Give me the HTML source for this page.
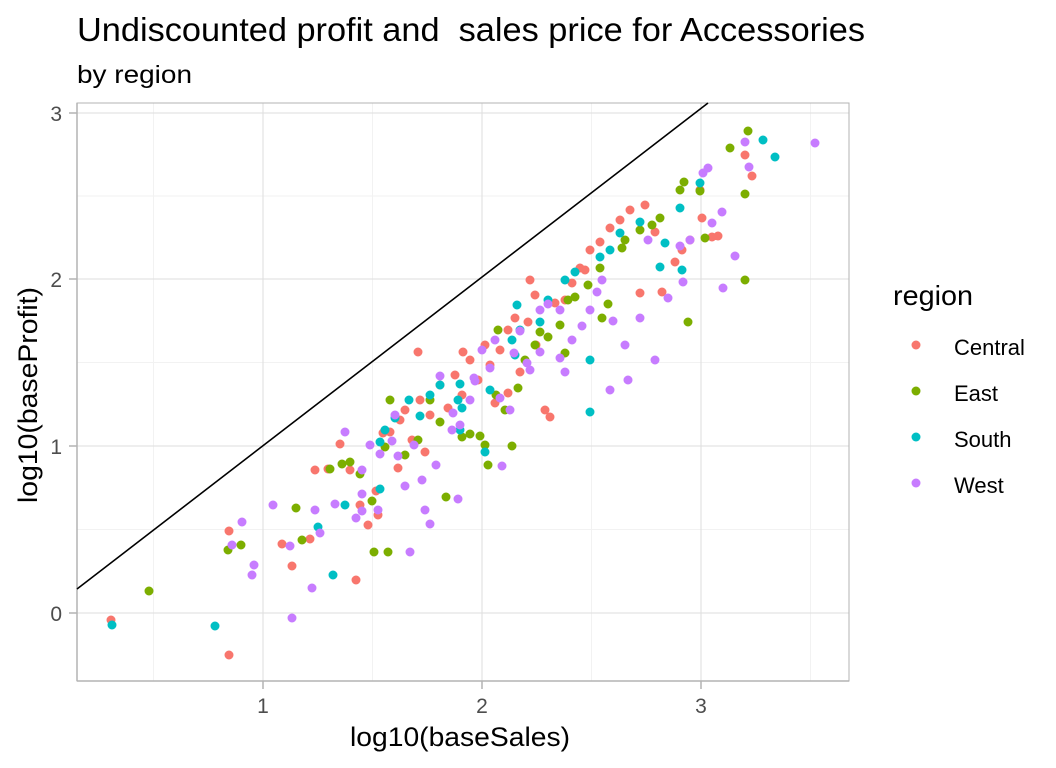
<!DOCTYPE html>
<html><head><meta charset="utf-8"><style>
html,body{margin:0;padding:0;background:#fff;}
svg{display:block;font-family:"Liberation Sans",Arial,sans-serif;}
</style></head><body>
<svg width="1056" height="768" viewBox="0 0 1056 768" xmlns="http://www.w3.org/2000/svg">
<rect width="1056" height="768" fill="#fff"/>
<text x="77" y="41" font-size="33" fill="#000" textLength="788" lengthAdjust="spacingAndGlyphs" style="white-space:pre" xml:space="preserve">Undiscounted profit and&#160; sales price for Accessories</text>
<text x="77" y="83" font-size="25" fill="#000" textLength="115" lengthAdjust="spacingAndGlyphs">by region</text>
<g stroke="#f2f2f2" stroke-width="1">
<line x1="153.5" y1="103" x2="153.5" y2="681"/><line x1="372.5" y1="103" x2="372.5" y2="681"/><line x1="591.5" y1="103" x2="591.5" y2="681"/><line x1="810.5" y1="103" x2="810.5" y2="681"/>
<line x1="77" y1="196" x2="849" y2="196"/><line x1="77" y1="362.5" x2="849" y2="362.5"/><line x1="77" y1="529.5" x2="849" y2="529.5"/>
</g>
<g stroke="#dedede" stroke-width="1">
<line x1="263" y1="103" x2="263" y2="681"/><line x1="482" y1="103" x2="482" y2="681"/><line x1="701" y1="103" x2="701" y2="681"/>
<line x1="77" y1="113" x2="849" y2="113"/><line x1="77" y1="279" x2="849" y2="279"/><line x1="77" y1="446" x2="849" y2="446"/><line x1="77" y1="613" x2="849" y2="613"/>
</g>
<rect x="77" y="103" width="772" height="578" fill="none" stroke="#b3b3b3" stroke-width="1"/>
<g stroke="#b3b3b3" stroke-width="1.5">
<line x1="77" y1="681" x2="849" y2="681"/><line x1="77" y1="103" x2="77" y2="681"/>
<line x1="263" y1="681" x2="263" y2="689"/><line x1="482" y1="681" x2="482" y2="689"/><line x1="701" y1="681" x2="701" y2="689"/>
<line x1="69" y1="113" x2="77" y2="113"/><line x1="69" y1="279" x2="77" y2="279"/><line x1="69" y1="446" x2="77" y2="446"/><line x1="69" y1="613" x2="77" y2="613"/>
</g>
<line x1="77" y1="589" x2="708" y2="103" stroke="#000" stroke-width="1.6"/>
<g fill="none" stroke-width="9" stroke-linecap="round">
<path stroke="#F8766D" d="M111 620h0M229 655h0M229 531h0M282 544h0M292 566h0M310 539h0M315 470h0M328 469h0M340 444h0M350 470h0M356 580h0M368 525h0M376 491h0M378 515h0M383 433h0M390 432h0M398 468h0M405 410h0M412 440h0M420 400h0M425 452h0M430 415h0M440 385h0M448 408h0M455 375h0M462 395h0M470 360h0M478 380h0M485 345h0M490 365h0M495 403h0M500 350h0M508 330h0M515 318h0M520 372h0M528 322h0M536 345h0M545 410h0M550 417h0M555 303h0M565 300h0M572 283h0M580 268h0M590 250h0M600 242h0M610 228h0M620 220h0M630 210h0M645 205h0M655 232h0M662 292h0M675 262h0M682 250h0M690 240h0M700 190h0M702 218h0M712 237h0M718 236h0M745 155h0M752 176h0M400 420h0M360 505h0M418 352h0M463 352h0M530 280h0M535 295h0M585 270h0M508 393h0M640 293h0"/>
<path stroke="#7CAE00" d="M149 591h0M228 550h0M241 545h0M296 508h0M302 540h0M330 469h0M342 464h0M350 462h0M360 474h0M372 501h0M374 552h0M385 447h0M388 552h0M405 455h0M418 440h0M430 400h0M446 497h0M440 422h0M470 434h0M480 436h0M485 445h0M488 465h0M498 330h0M505 410h0M512 446h0M518 388h0M525 360h0M540 332h0M548 337h0M560 325h0M568 300h0M575 297h0M588 285h0M600 268h0M602 318h0M608 304h0M622 248h0M625 240h0M640 230h0M652 225h0M660 218h0M680 190h0M684 182h0M700 191h0M705 238h0M730 148h0M745 194h0M748 131h0M688 322h0M745 280h0M565 353h0M390 400h0M462 437h0M496 395h0M535 345h0"/>
<path stroke="#00BFC4" d="M112 625h0M215 626h0M318 527h0M333 575h0M345 505h0M380 489h0M380 442h0M385 430h0M409 400h0M420 416h0M430 395h0M458 400h0M460 430h0M462 408h0M485 452h0M490 390h0M515 355h0M517 305h0M520 330h0M540 322h0M565 280h0M575 272h0M590 412h0M590 360h0M600 257h0M610 250h0M620 233h0M640 222h0M660 267h0M665 243h0M680 208h0M682 270h0M700 183h0M763 140h0M775 157h0M512 340h0M548 300h0M440 385h0M395 418h0M460 384h0"/>
<path stroke="#C77CFF" d="M232 545h0M242 522h0M252 575h0M254 565h0M273 505h0M290 546h0M292 618h0M312 588h0M315 510h0M320 533h0M335 504h0M345 432h0M356 518h0M362 511h0M362 494h0M362 470h0M370 445h0M378 510h0M380 454h0M392 441h0M395 415h0M398 456h0M405 486h0M414 445h0M422 480h0M425 510h0M430 524h0M436 465h0M440 376h0M452 430h0M458 499h0M460 425h0M470 400h0M475 381h0M482 350h0M490 368h0M495 340h0M500 398h0M510 410h0M514 353h0M520 331h0M527 363h0M530 370h0M540 310h0M548 304h0M560 358h0M565 372h0M572 340h0M582 326h0M590 310h0M597 292h0M602 280h0M610 390h0M613 321h0M625 345h0M628 380h0M640 318h0M655 360h0M668 298h0M680 246h0M690 240h0M703 173h0M708 168h0M712 223h0M722 212h0M723 288h0M735 256h0M745 142h0M749 167h0M815 143h0M410 552h0M453 413h0M474 378h0M502 466h0M540 352h0M560 310h0M648 240h0M683 282h0"/>
</g>
<g font-size="21" fill="#4d4d4d" text-anchor="end">
<text x="62" y="121">3</text><text x="62" y="287">2</text><text x="62" y="454">1</text><text x="62" y="621">0</text>
</g>
<g font-size="21" fill="#4d4d4d" text-anchor="middle">
<text x="263" y="713">1</text><text x="482" y="713">2</text><text x="701" y="713">3</text>
</g>
<text x="460" y="746" font-size="27" text-anchor="middle" fill="#000" textLength="220" lengthAdjust="spacingAndGlyphs">log10(baseSales)</text>
<text transform="translate(37,395) rotate(-90)" font-size="27" text-anchor="middle" fill="#000" textLength="216" lengthAdjust="spacingAndGlyphs">log10(baseProfit)</text>
<text x="893" y="305" font-size="28" fill="#000" textLength="80" lengthAdjust="spacingAndGlyphs">region</text>
<g stroke-width="9" stroke-linecap="round">
<path stroke="#F8766D" d="M916 345h0"/><path stroke="#7CAE00" d="M916 391h0"/><path stroke="#00BFC4" d="M916 437h0"/><path stroke="#C77CFF" d="M916 483h0"/>
</g>
<g font-size="22" fill="#000">
<text x="954" y="355">Central</text><text x="954" y="401">East</text><text x="954" y="447">South</text><text x="954" y="493">West</text>
</g>
</svg>
</body></html>
